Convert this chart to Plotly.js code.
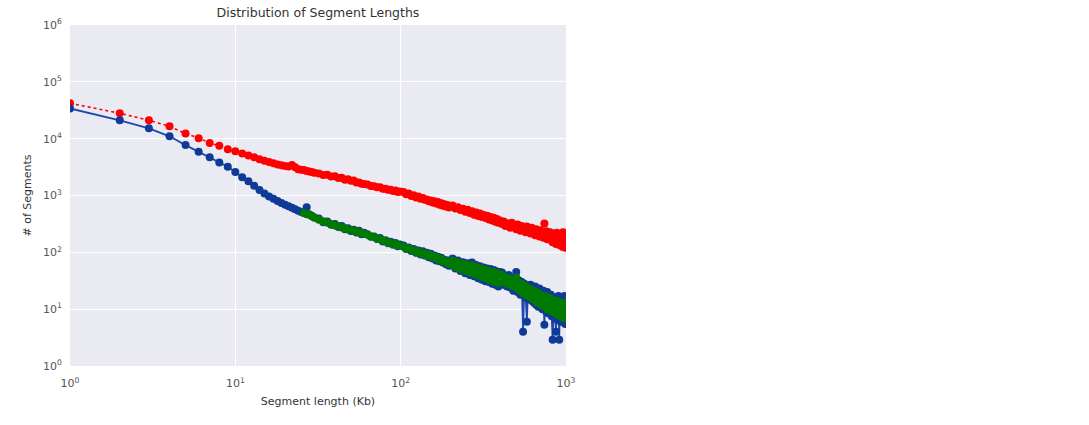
<!DOCTYPE html>
<html>
<head>
<meta charset="utf-8">
<script src="https://cdn.plot.ly/plotly-3.0.1.min.js"></script>
<style>html,body{margin:0;padding:0;background:#fff;}#chart{width:1089px;height:425px;}</style>
</head>
<body>
<div id="chart"></div>
<script>
// Segment lengths (Kb)
const segLen = [1,2,3,4,5,6,7,8,9,10,11,12,13,14,15,16,17,18,19,20,21,22,23,24,25,26,27,28,29,30,
32,34,36,38,40,42,44,46,48,50,52,54,56,58,60,
63,66,69,72,75,78,81,84,87,90,93,96,99,
104,108,112,116,120,124,128,132,136,140,144,148,152,156,160,164,168,172,176,180,184,188,192,196,200,
206,214,222,230,238,246,254,262,270,278,286,294,302,310,318,326,334,342,350,358,366,374,382,390,398,
410,420,430,440,450,460,470,480,490,500,510,520,530,540,550,560,570,580,590,600,
610,620,630,640,650,660,670,680,690,700,710,720,730,740,750,760,770,780,790,800,
810,820,830,840,850,860,870,880,890,900,910,920,930,940,950,960,970,980,990,1000];

// Red series (dotted)
const redCounts = [42000,28000,21000,16500,12300,10200,8400,7500,6500,6000,
5500,5050,4700,4350,4100,3900,3700,3500,3420,3300,
3250,3450,3150,2900,2850,2800,2700,2650,2580,2520,
2450,2300,2310,2150,2190,2030,2050,1900,1940,1810,1830,1690,1700,1610,1600,
1560,1470,1460,1390,1390,1320,1320,1260,1260,1200,1225,1150,1175,
1150,1050,1080,980,1010,920,960,880,905,840,850,790,820,755,790,720,770,690,730,660,700,640,680,615,655,
670,590,620,555,585,520,560,490,530,460,500,435,480,420,455,400,440,380,420,365,405,345,385,330,365,
315,350,290,325,305,270,330,285,300,255,310,265,240,290,250,275,225,285,230,255,
215,270,220,240,200,255,205,230,190,245,195,225,180,320,200,235,170,215,185,225,
165,205,150,215,175,195,140,220,160,200,135,210,150,185,125,225,140,190,120,210];

// Blue series (solid)
const blueCounts = [34000,21000,15200,11000,7700,5900,4700,3800,3200,2600,
2100,1780,1480,1250,1080,960,880,800,740,690,
650,610,575,540,515,490,620,465,440,410,
395,340,350,305,315,278,290,255,265,238,250,224,240,208,222,
208,188,190,172,178,155,163,145,153,136,146,128,138,
132,114,122,106,114,98,108,92,104,88,98,82,94,78,88,72,84,70,80,66,74,62,72,58,68,
78,52,72,47,67,43,64,40,66,38,60,35,57,33,54,31,52,30,51,28,49,27,46,25,45,
44,27,38,25,40,24,34,21,36,45,20,32,18,30,4,28,16,6,26,15,
27,14,24,13,25,12,22,11,23,12,20,10,21,5.3,19,9,20,8.5,17,9,
18,7.5,2.9,8,16,7,4,15,6.5,17,2.9,14,6,16,7,15,6,17,5.5,14];

// Green series (from 26 Kb)
const greenLen = segLen.slice(25);
const greenCounts = [490,470,462,438,412,
375,352,332,316,298,290,274,266,253,248,238,234,226,218,210,
203,192,186,175,172,160,159,149,148,140,140,132,132,
126,117,117,109,109,101,103,95,98,90,93,86,89,82,84,77,80,73,76,70,71,66,68,62,65,
72,55,67,50,63,47,60,44,59,42,55,39,53,37,50,35,48,33,46,32,45,30,43,29,41,
40,30,36,28,35,27,32,25,31,36,23,29,21,28,19,26,18,24,17,23,
16,22,15,21,15,20,13,19,13,18,12,17,12,17,11,16,10,16,10,15,
9.5,15,9,14,9,14,8.5,14,8,13,8,13,7.5,13,7.5,12,7,13,7,12];

const xTicks = [1,10,100,1000];
const xTickText = ['10<sup>0</sup>','10<sup>1</sup>','10<sup>2</sup>','10<sup>3</sup>'];
const yTicks = [1,10,100,1000,10000,100000,1000000];
const yTickText = ['10<sup>0</sup>','10<sup>1</sup>','10<sup>2</sup>','10<sup>3</sup>','10<sup>4</sup>','10<sup>5</sup>','10<sup>6</sup>'];

const traces = [
  {x: segLen, y: redCounts, type:'scatter', mode:'lines+markers',
   line:{color:'#ff0000', width:1.6, dash:'dot'}, marker:{color:'#ff0000', size:8}},
  {x: segLen, y: blueCounts, type:'scatter', mode:'lines+markers',
   line:{color:'#1f45b0', width:1.8}, marker:{color:'#0f3a96', size:8}},
  {x: greenLen, y: greenCounts, type:'scatter', mode:'lines+markers',
   line:{color:'#007a00', width:1.6}, marker:{color:'#007a00', size:8}}
];

const layout = {
  width:1089, height:425,
  margin:{l:70, r:523, t:25, b:59},
  paper_bgcolor:'#ffffff', plot_bgcolor:'#EAEAF2',
  showlegend:false,
  font:{family:'DejaVu Sans, Arial, sans-serif', color:'#333'},
  title:{text:'Distribution of Segment Lengths', font:{family:'DejaVu Sans', size:12.5, color:'#333'},
         x:0.5, xref:'paper', xanchor:'center', y:1-13/425, yref:'container', yanchor:'middle'},
  xaxis:{type:'log', range:[0,3], tickvals:xTicks, ticktext:xTickText,
         gridcolor:'#ffffff', gridwidth:1, zeroline:false, showline:false,
         ticks:'outside', ticklen:7, tickcolor:'rgba(0,0,0,0)',
         tickfont:{size:11, color:'#555'},
         title:{text:'Segment length (Kb)', font:{size:11, color:'#333'}, standoff:8}},
  yaxis:{type:'log', range:[0,6], tickvals:yTicks, ticktext:yTickText,
         gridcolor:'#ffffff', gridwidth:1, zeroline:false, showline:false,
         ticks:'outside', ticklen:5, tickcolor:'rgba(0,0,0,0)',
         tickfont:{size:11, color:'#555'},
         title:{text:'# of Segments', font:{size:11, color:'#333'}, standoff:9}}
};

Plotly.newPlot('chart', traces, layout, {displayModeBar:false, staticPlot:true});
</script>
</body>
</html>
